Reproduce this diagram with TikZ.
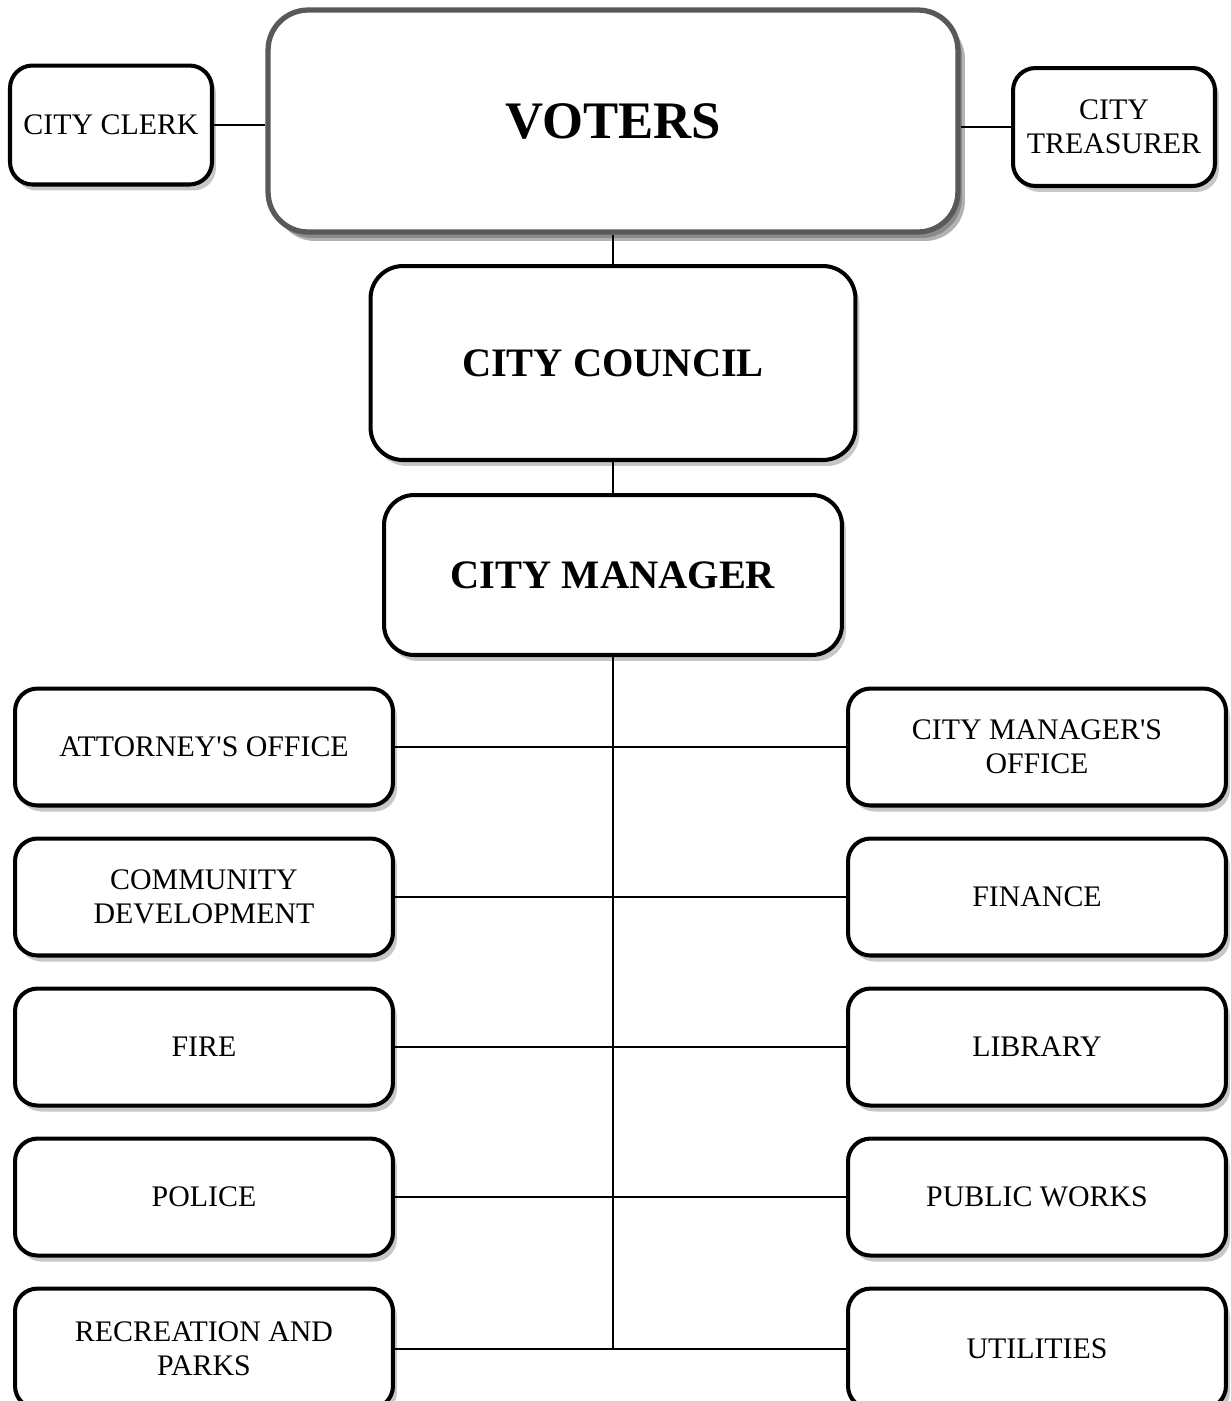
\documentclass[tikz,border=0pt]{standalone}
\usepackage{fontspec}
\setmainfont{Liberation Serif}[Ligatures=TeXOff]
\usetikzlibrary{positioning,shadows}

\begin{document}
\begin{tikzpicture}[
x=0.02cm, y=-0.02cm,
node distance=0.58cm and 0.58cm,
box/.style={rectangle, rounded corners=0.45cm, draw=black, line width=2.3pt, fill=white, align=center, font=\fontsize{17}{19.5}\selectfont, minimum width=7.56cm, minimum height=2.34cm, drop shadow={shadow xshift=0.08cm, shadow yshift=-0.12cm, fill=black, opacity=0.22}},
head/.style={box, font=\fontsize{23}{27}\selectfont\bfseries, rounded corners=0.65cm},
line/.style={line width=1.1pt}
]
\useasboundingbox (0,0) rectangle (1231,1401);

% top of the chart
\node[head, font=\fontsize{30}{34}\selectfont\bfseries, draw=black!65, line width=3pt, rounded corners=0.8cm, minimum width=13.8cm, minimum height=4.44cm, drop shadow={shadow xshift=0.14cm, shadow yshift=-0.18cm, fill=black, opacity=0.3}] (voters) at (613,121) {VOTERS};
\node[box, minimum width=4.04cm, minimum height=2.38cm] (clerk) at (111,125) {CITY CLERK};
\node[box, minimum width=4.04cm, minimum height=2.36cm] (treasurer) at (1114,127) {CITY\\TREASURER};
\node[head, minimum width=9.7cm, minimum height=3.88cm] (council) at (613,363) {CITY COUNCIL};
\node[head, minimum width=9.16cm, minimum height=3.2cm, rounded corners=0.6cm] (manager) at (613,575) {CITY MANAGER};

% departments, left column
\node[box] (attorney) at (204,747) {ATTORNEY'S OFFICE};
\node[box, below=of attorney] (community) {COMMUNITY\\DEVELOPMENT};
\node[box, below=of community] (fire) {FIRE};
\node[box, below=of fire] (police) {POLICE};
\node[box, below=of police, minimum height=2.4cm] (recreation) {RECREATION AND\\PARKS};

% departments, right column
\node[box] (cmoffice) at (1037,747) {CITY MANAGER'S\\OFFICE};
\node[box, below=of cmoffice] (finance) {FINANCE};
\node[box, below=of finance] (library) {LIBRARY};
\node[box, below=of library] (works) {PUBLIC WORKS};
\node[box, below=of works, minimum height=2.4cm] (utilities) {UTILITIES};

\draw[line] (clerk.east) -- (clerk.east -| voters.west);
\draw[line] (treasurer.west) -- (treasurer.west -| voters.east);
\draw[line] (voters.south) -- (council.north);
\draw[line] (council.south) -- (manager.north);
\draw[line] (manager.south) -- (manager.south |- recreation.east);
\foreach \l/\r in {attorney/cmoffice, community/finance, fire/library, police/works, recreation/utilities}
  \draw[line] (\l.east) -- (\r.west);

\end{tikzpicture}
\end{document}
